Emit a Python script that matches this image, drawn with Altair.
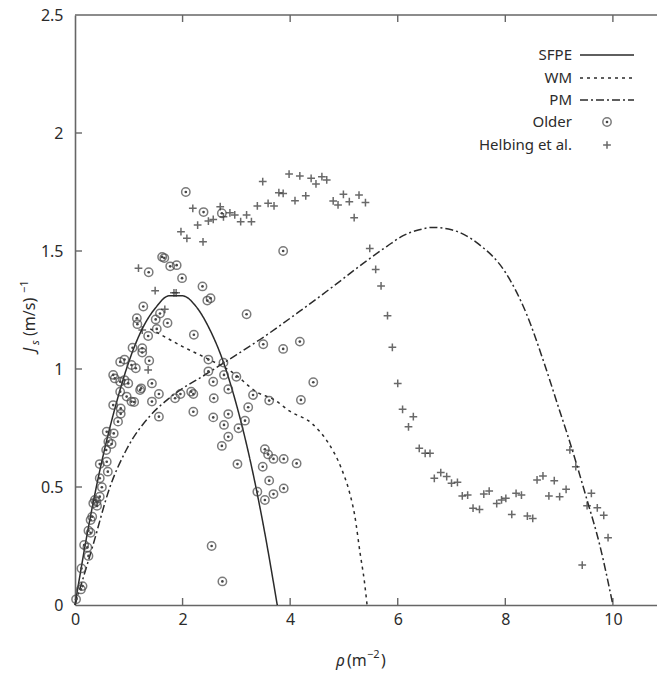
import altair as alt
import pandas as pd

# ---------------- data ----------------
sfpe_x = [0, 0.25, 0.5, 0.75, 1.0, 1.25, 1.5, 1.75, 2.0, 2.25, 2.5, 2.75, 3.0, 3.25, 3.5, 3.76]
sfpe_y = [0, 0.33, 0.61, 0.84, 1.03, 1.17, 1.26, 1.31, 1.31, 1.265, 1.17, 1.035, 0.85, 0.62, 0.34, 0]

wm_x = [1.4, 1.6, 2.0, 2.45, 2.9, 3.4, 3.7, 4.0, 4.4, 4.7, 4.95, 5.1, 5.2, 5.3, 5.38, 5.43]
wm_y = [1.17, 1.145, 1.095, 1.045, 0.99, 0.90, 0.87, 0.82, 0.77, 0.69, 0.58, 0.48, 0.38, 0.22, 0.10, 0]

pm_x = [0, 0.33, 0.65, 0.96, 1.39, 1.77, 2.45, 3.0, 3.44, 4.18, 4.8, 5.43, 5.8, 6.1, 6.4, 6.65, 7.0, 7.5,
        8.0, 8.4, 8.7, 9.0, 9.2, 9.5, 9.76, 10.0]
pm_y = [0, 0.25, 0.5, 0.66, 0.8, 0.88, 0.98, 1.06, 1.125, 1.245, 1.35, 1.46, 1.52, 1.565, 1.59, 1.60, 1.59, 1.53,
        1.41, 1.23, 1.04, 0.83, 0.69, 0.46, 0.25, 0]

older_x = [2.06, 2.39, 2.73, 1.62, 1.66, 1.37, 1.77, 1.89, 1.99, 2.37, 2.52, 2.46, 1.27, 1.15, 1.16,
           1.58, 1.50, 1.72, 1.52, 1.36, 2.21, 1.07, 1.25, 1.25, 1.38, 0.84, 0.92, 1.05, 1.13, 3.19,
           2.48, 2.76, 0.71, 0.74, 0.92, 1.23, 1.43, 2.48, 2.77, 3.0, 2.57,
           0.84, 0.99, 1.21, 0.84, 0.96, 1.05, 1.10, 0.71, 0.85, 0.85, 0.80, 1.43, 1.56, 1.56, 1.86,
           1.96, 2.16, 2.20, 2.20, 2.58, 2.57, 2.77, 2.85, 2.85, 2.85, 2.73, 3.04, 3.02, 3.16, 3.22,
           3.31, 3.61, 4.20, 3.39, 3.49, 3.53, 3.59, 3.69, 3.61, 3.53, 3.69, 3.88, 3.88, 4.12, 2.54,
           2.74,
           0.02, 0.11, 0.14, 0.12, 0.17, 0.23, 0.25, 0.25, 0.29, 0.29, 0.32, 0.34, 0.37, 0.40, 0.41,
           0.46, 0.50, 0.46, 0.46, 0.59, 0.58, 0.62, 0.68, 0.59, 0.72, 0.61,
           3.50, 3.87, 4.18, 4.43, 3.87]
older_y = [1.75, 1.665, 1.66, 1.475, 1.47, 1.41, 1.435, 1.44, 1.385, 1.35, 1.30, 1.29, 1.265, 1.215, 1.19,
           1.235, 1.21, 1.195, 1.17, 1.14, 1.145, 1.09, 1.088, 1.07, 1.035, 1.03, 1.04, 1.017, 1.003, 1.232,
           1.04, 1.027, 0.975, 0.96, 0.953, 0.918, 0.939, 0.99, 0.975, 0.967, 0.946,
           0.946, 0.939, 0.911, 0.904, 0.883, 0.862, 0.86, 0.847, 0.833, 0.81, 0.777, 0.862, 0.894, 0.798, 0.876,
           0.894, 0.904, 0.894, 0.819, 0.876, 0.795, 0.763, 0.914, 0.809, 0.713, 0.674, 0.749, 0.597, 0.781, 0.838,
           0.89, 0.866, 0.869, 0.48, 0.586, 0.66, 0.638, 0.619, 0.527, 0.445, 0.47, 0.619, 0.494, 0.60, 0.25,
           0.10,
           0.024, 0.066, 0.08, 0.155, 0.254, 0.244, 0.208, 0.315, 0.306, 0.36, 0.374, 0.431, 0.445, 0.438, 0.42,
           0.459, 0.499, 0.537, 0.597, 0.607, 0.657, 0.692, 0.682, 0.734, 0.727, 0.565,
           1.105, 1.085, 1.116, 0.944, 1.50]

helb_x = [3.98, 4.18, 4.39, 4.59, 4.48, 4.68, 3.49, 3.79, 3.87, 4.09, 4.29, 4.80, 4.99, 4.89, 5.10,
          5.28, 5.40, 5.19, 3.39, 3.59, 3.70, 3.19, 3.08, 3.28, 2.70, 2.76, 2.88, 2.97, 2.57, 2.48,
          2.38, 5.48, 5.59, 5.69, 5.81, 2.19, 2.28, 1.97, 2.08, 1.18, 1.49, 1.84, 1.88, 1.67, 1.25,
          1.36, 5.90, 6.00, 6.09, 6.29, 6.20, 6.40, 6.51, 6.60, 6.68, 6.80, 6.91, 7.00, 7.11, 7.20,
          7.30, 7.40, 7.52, 7.60, 7.70, 7.84, 7.93, 8.01, 8.20, 8.30, 8.12, 8.41, 8.51, 8.59, 8.70,
          8.91, 8.81, 9.01, 9.13, 9.20, 9.31, 9.60, 9.52, 9.71, 9.83, 9.91, 9.43]
helb_y = [1.826, 1.818, 1.808, 1.815, 1.784, 1.801, 1.794, 1.747, 1.744, 1.713, 1.734, 1.712, 1.74, 1.695, 1.709,
          1.737, 1.705, 1.641, 1.691, 1.702, 1.691, 1.653, 1.624, 1.624, 1.688, 1.645, 1.662, 1.653, 1.634, 1.627,
          1.539, 1.511, 1.422, 1.352, 1.226, 1.681, 1.61, 1.582, 1.554, 1.427, 1.332, 1.323, 1.323, 1.253, 1.165,
          0.996, 1.092, 0.939, 0.829, 0.798, 0.755, 0.664, 0.643, 0.643, 0.537, 0.561, 0.544, 0.516, 0.52, 0.462,
          0.466, 0.41, 0.405, 0.47, 0.483, 0.43, 0.445, 0.452, 0.473, 0.466, 0.384, 0.377, 0.367, 0.53, 0.547,
          0.527, 0.462, 0.459, 0.49, 0.657, 0.586, 0.473, 0.421, 0.412, 0.38, 0.285, 0.169]

x_ticks = [0, 2, 4, 6, 8, 10]
y_ticks = [0, 0.5, 1, 1.5, 2, 2.5]
legend_labels = ["SFPE", "WM", "PM", "Older", "Helbing et al."]

# ---------------- chart ----------------
W, H = 582, 590
FONT = "Noto Sans"
INK = "#2b2b2b"
MK = "#444444"
AXC = "#666666"

xs = alt.Scale(domain=[0, 10.82], nice=False, zero=False)
ys = alt.Scale(domain=[0, 2.5], nice=False, zero=False)

x_axis = alt.Axis(values=x_ticks, ticks=False, grid=False, labelFont=FONT, labelFontSize=16,
                  labelColor=INK, labelPadding=6, domainColor=AXC, domainWidth=1.6, title=None,
                  labelFlush=False, labelExpr="'' + datum.value")
y_axis = alt.Axis(values=y_ticks, ticks=False, grid=False, labelFont=FONT, labelFontSize=16,
                  labelColor=INK, labelPadding=12, domainColor=AXC, domainWidth=1.6, title=None,
                  labelFlush=False, labelExpr="'' + datum.value")

X = alt.X("x:Q", scale=xs, axis=x_axis)
Y = alt.Y("y:Q", scale=ys, axis=y_axis)

curves = pd.concat([
    pd.DataFrame({"x": sfpe_x, "y": sfpe_y, "s": "SFPE"}),
    pd.DataFrame({"x": wm_x, "y": wm_y, "s": "WM"}),
    pd.DataFrame({"x": pm_x, "y": pm_y, "s": "PM"}),
])
older = pd.DataFrame({"x": older_x, "y": older_y})
helb = pd.DataFrame({"x": helb_x, "y": helb_y})


def line(series, dash):
    return alt.Chart(curves[curves.s == series]).mark_line(
        color=INK, strokeWidth=1.5, strokeDash=dash, interpolate="monotone"
    ).encode(x=X, y=Y, order="x:Q")


l_sfpe = line("SFPE", [1, 0])
l_wm = line("WM", [3, 4])
l_pm = line("PM", [8, 3, 2, 3])

older_ring = alt.Chart(older).mark_point(
    shape="circle", size=70, filled=False, stroke=MK, strokeWidth=1.5
).encode(x=X, y=Y)
older_dot = alt.Chart(older).mark_point(
    shape="circle", size=7, filled=True, fill=MK, strokeWidth=0, opacity=1
).encode(x=X, y=Y)

PLUS = "M-1,0L1,0M0,-1L0,1"
helb_pts = alt.Chart(helb).mark_point(
    shape=PLUS, size=60, filled=False, stroke=INK, strokeWidth=1.5
).encode(x=X, y=Y)

# inward tick marks and top frame
xt = pd.DataFrame({"x": [v for v in x_ticks if v > 0]})
yt = pd.DataFrame({"y": [v for v in y_ticks if 0 < v < 2.5]})
tick_bottom = alt.Chart(xt).mark_rule(color=AXC, strokeWidth=1.4).encode(
    x=X, y=alt.value(H), y2=alt.value(H - 7))
tick_top = alt.Chart(xt).mark_rule(color=AXC, strokeWidth=1.4).encode(
    x=X, y=alt.value(0), y2=alt.value(7))
tick_left = alt.Chart(yt).mark_rule(color=AXC, strokeWidth=1.4).encode(
    y=Y, x=alt.value(0), x2=alt.value(7))
top_frame = alt.Chart(pd.DataFrame({"a": [0]})).mark_rule(color=AXC, strokeWidth=1.6).encode(
    x=alt.value(0), x2=alt.value(W), y=alt.value(0))


def txt(t, x, y, size=16, style="normal", angle=0, align="left", baseline="alphabetic"):
    return alt.Chart(pd.DataFrame({"t": [t]})).mark_text(
        font=FONT, fontSize=size, fontStyle=style, color=INK, angle=angle,
        align=align, baseline=baseline
    ).encode(text="t:N", x=alt.value(x), y=alt.value(y))


xtitle = [
    txt("ρ", 261, 651, style="italic"),
    txt("(m", 272, 651),
    txt("−2", 292, 643, size=11),
    txt(")", 306, 651),
]
ytitle = [
    txt("J", -40, 337, style="italic", angle=270),
    txt("s", -36, 330, size=11, style="italic", angle=270),
    txt("(m/s)", -40, 321, angle=270),
    txt("−1", -47, 278, size=11, angle=270),
]

leg_y = [40, 63, 85, 107, 130]
leg = []
for lab, yy in zip(legend_labels, leg_y):
    leg.append(txt(lab, 497, yy, size=15, align="right", baseline="middle"))
dashes = [[1, 0], [3, 4], [8, 3, 2, 3]]
for d, yy in zip(dashes, leg_y[:3]):
    leg.append(alt.Chart(pd.DataFrame({"a": [0]})).mark_rule(color=INK, strokeWidth=1.5, strokeDash=d).encode(
        x=alt.value(505), x2=alt.value(559), y=alt.value(yy)))
leg.append(alt.Chart(pd.DataFrame({"a": [0]})).mark_point(
    shape="circle", size=70, filled=False, stroke=MK, strokeWidth=1.5).encode(
    x=alt.value(532), y=alt.value(leg_y[3])))
leg.append(alt.Chart(pd.DataFrame({"a": [0]})).mark_point(
    shape="circle", size=7, filled=True, fill=MK, strokeWidth=0, opacity=1).encode(
    x=alt.value(532), y=alt.value(leg_y[3])))
leg.append(alt.Chart(pd.DataFrame({"a": [0]})).mark_point(
    shape=PLUS, size=60, filled=False, stroke=INK, strokeWidth=1.5).encode(
    x=alt.value(532), y=alt.value(leg_y[4])))

chart = alt.layer(
    tick_bottom, tick_top, tick_left, top_frame,
    l_sfpe, l_wm, l_pm, older_ring, older_dot, helb_pts,
    *xtitle, *ytitle, *leg
).properties(
    width=W, height=H,
    autosize=alt.AutoSizeParams(type="none"),
    padding={"left": 75, "top": 15, "right": 0, "bottom": 68},
    background="white",
).configure_view(stroke=None)

chart.save("out.html", embed_options={"renderer": "svg", "actions": False})
